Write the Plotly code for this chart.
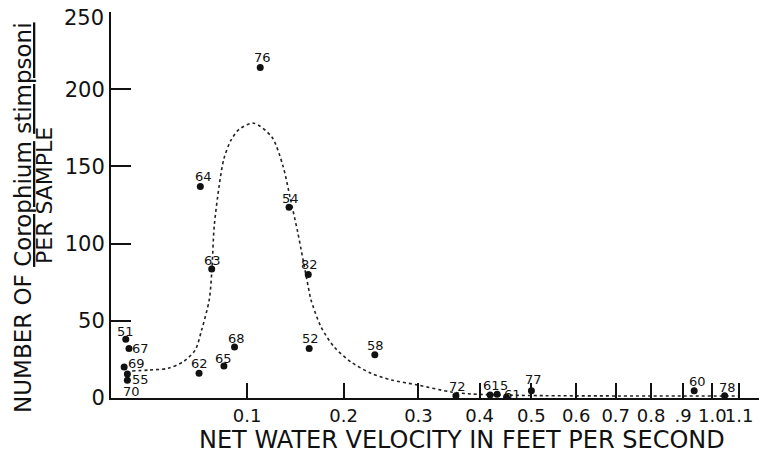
import numpy as np
import plotly.graph_objects as go

# samples: station number, net water velocity (ft/s), Corophium per sample
stations = ["51", "67", "69", "55", "70", "62", "65", "68", "64", "63", "76",
            "54", "82", "52", "58", "72", "61", "5", "61", "77", "60", "78"]
velocity = [0.009, 0.011, 0.008, 0.010, 0.010, 0.060, 0.080, 0.089, 0.061, 0.070, 0.112,
            0.140, 0.160, 0.161, 0.239, 0.359, 0.419, 0.432, 0.450, 0.500, 0.937, 1.045]
count = [38, 32, 20, 15.5, 11.5, 16, 20.7, 33, 137, 83.5, 214,
         123.5, 80, 32, 28, 1.5, 2, 2.4, 0.5, 4.7, 4.7, 1.5]

# where each station number sits relative to its dot (px)
label_dx = [0, 12, 12, 13, 4, 0, 0, 2, 3, 1, 2,
            1, 1, 1, 1, 2, 1, 7, 6, 2, 3, 3]
label_dy = [8, 0, 4, -5, -11, 10, 8, 9, 10, 9, 10,
            9, 10, 10, 9, 9, 9, 9, 3, 11, 9, 8]

# hand-drawn dotted curve
curve_v = [0.013, 0.024, 0.037, 0.048, 0.057, 0.062, 0.068, 0.070, 0.072, 0.076, 0.080,
           0.086, 0.093, 0.106, 0.123, 0.134, 0.141, 0.149, 0.160, 0.163, 0.174, 0.189,
           0.209, 0.234, 0.261, 0.299, 0.351, 0.385, 0.5, 0.8, 1.1]
curve_n = [17.5, 18.1, 19.2, 23.5, 31, 44, 63.5, 81, 111, 137, 155,
           167, 174, 178, 169, 150, 130, 107, 72, 63.5, 46, 33,
           23.3, 16, 11.7, 8.4, 3.9, 2.6, 1.6, 1.3, 1.3]

tick_vals = [0.1, 0.2, 0.3, 0.4, 0.5, 0.6, 0.7, 0.8, 0.9, 1.0, 1.1, 1.2]
tick_text = ["0.1", "0.2", "0.3", "0.4", "0.5", "0.6", "0.7", "0.8", ".9", "1.0", "1.1", ""]
y_ticks = [0, 50, 100, 150, 200, 250]

# the velocity axis is drawn as log(v + 0.2)
OFFSET = 0.2
def vx(v):
    return np.log10(np.asarray(v, dtype=float) + OFFSET)

FONT = "DejaVu Sans"

fig = go.Figure()
fig.add_trace(go.Scatter(x=vx(curve_v), y=curve_n, mode="lines",
                         line=dict(color="#222", width=1.6, dash="dot", shape="spline",
                                   smoothing=0.8),
                         hoverinfo="skip"))
fig.add_trace(go.Scatter(x=vx(velocity), y=count, mode="markers",
                         marker=dict(color="#111", size=7)))

for s, v, n, dx, dy in zip(stations, velocity, count, label_dx, label_dy):
    fig.add_annotation(text=s, x=float(vx(v)), y=n, xref="x", yref="y",
                       xshift=dx, yshift=dy, showarrow=False,
                       xanchor="center", yanchor="middle",
                       font=dict(size=13, family=FONT, color="#111"))

# page body has an 8px margin, so the figure is nudged up/left to compensate
fig.update_layout(
    width=767, height=465,
    margin=dict(l=103, r=11, t=4, b=75),
    paper_bgcolor="white", plot_bgcolor="white",
    showlegend=False,
    font=dict(family=FONT, color="#111"),
    xaxis=dict(range=[np.log10(OFFSET), np.log10(1.2 + OFFSET)],
               tickvals=vx(tick_vals), ticktext=tick_text, tickangle=0,
               ticks="inside", ticklen=15, tickwidth=2, tickcolor="#111",
               showline=True, linewidth=2, linecolor="#111",
               showgrid=False, zeroline=False, automargin=False,
               ticklabeloverflow="allow", tickfont=dict(size=18)),
    # top label (250) would be clipped by the svg edge, so it's drawn separately
    yaxis=dict(range=[0, 250], tickvals=y_ticks,
               ticktext=[str(t) for t in y_ticks[:-1]] + [""],
               ticks="inside", ticklen=20, tickwidth=2, tickcolor="#111",
               showline=True, linewidth=2, linecolor="#111",
               showgrid=False, zeroline=False, automargin=False,
               ticklabeloverflow="allow", tickfont=dict(size=21)),
)

def px_to_paper(px, py):
    return (px - 111) / 653, (398 - py) / 386

fig.add_annotation(text=str(y_ticks[-1]), x=px_to_paper(106, 0)[0], y=y_ticks[-1],
                   xref="paper", yref="y", yshift=-6, showarrow=False,
                   xanchor="right", yanchor="middle",
                   font=dict(size=21, family=FONT))

ax, ay = px_to_paper(462, 440)
fig.add_annotation(text="NET WATER VELOCITY IN FEET PER SECOND", x=ax, y=ay,
                   xref="paper", yref="paper", showarrow=False,
                   xanchor="center", yanchor="middle",
                   font=dict(size=24, family=FONT))
ax, ay = px_to_paper(23, 218)
fig.add_annotation(text="NUMBER OF <u>Corophium</u> <u>stimpsoni</u>", x=ax, y=ay,
                   xref="paper", yref="paper", showarrow=False, textangle=-90,
                   xanchor="center", yanchor="middle",
                   font=dict(size=23, family=FONT))
ax, ay = px_to_paper(44, 196)
fig.add_annotation(text="PER SAMPLE", x=ax, y=ay,
                   xref="paper", yref="paper", showarrow=False, textangle=-90,
                   xanchor="center", yanchor="middle",
                   font=dict(size=22, family=FONT))

fig.write_html("out.html")
